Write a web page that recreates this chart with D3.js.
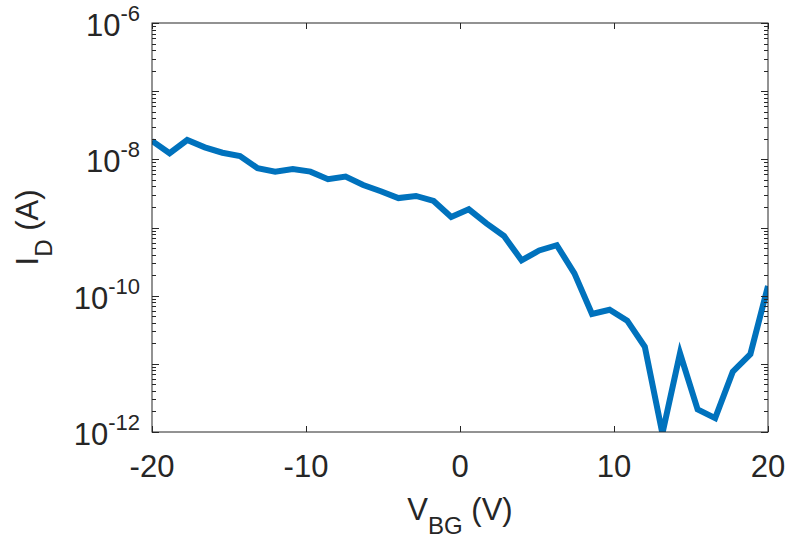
<!DOCTYPE html>
<html>
<head>
<meta charset="utf-8">
<script src="https://cdn.jsdelivr.net/npm/d3@7"></script>
<style>
  body { margin: 0; background: #fff; }
  text { font-family: "Liberation Sans", Arial, sans-serif; fill: #262626; }
</style>
</head>
<body>
<div id="chart"></div>
<script>
// gate voltage sweep, 36 points from -20 V to 20 V
const vbg = [-20, -18.857, -17.714, -16.571, -15.429, -14.286, -13.143, -12, -10.857, -9.714,
  -8.571, -7.429, -6.286, -5.143, -4, -2.857, -1.714, -0.571, 0.571, 1.714,
  2.857, 4, 5.143, 6.286, 7.429, 8.571, 9.714, 10.857, 12, 13.143,
  14.286, 15.429, 16.571, 17.714, 18.857, 20];
const idrain = [1.86e-8, 1.23e-8, 1.92e-8, 1.50e-8, 1.25e-8, 1.12e-8, 7.4e-9, 6.6e-9, 7.2e-9, 6.6e-9,
  5.1e-9, 5.6e-9, 4.2e-9, 3.4e-9, 2.7e-9, 2.9e-9, 2.45e-9, 1.43e-9, 1.85e-9, 1.15e-9,
  7.5e-10, 3.3e-10, 4.6e-10, 5.5e-10, 2.13e-10, 5.4e-11, 6.2e-11, 4.3e-11, 1.78e-11, 0.95e-12,
  1.43e-11, 2.15e-12, 1.6e-12, 7.7e-12, 1.39e-11, 1.39e-10];
const xTicks = [-20, -10, 0, 10, 20];
const yExps = [-6, -8, -10, -12];

const W = 787, H = 544;
const margin = { top: 23, right: 19, bottom: 112, left: 152 };
const width = W - margin.left - margin.right;
const height = H - margin.top - margin.bottom;

const svg = d3.select('#chart').append('svg')
  .attr('width', W).attr('height', H);
const g = svg.append('g')
  .attr('transform', 'translate(' + margin.left + ',' + margin.top + ')');

const x = d3.scaleLinear().domain([-20, 20]).range([0, width]);
const y = d3.scaleLog().domain([1e-12, 1e-6]).range([height, 0]);

svg.append('defs').append('clipPath').attr('id', 'clip')
  .append('rect').attr('width', width).attr('height', height);

// line
const line = d3.line().x((d, i) => x(vbg[i])).y(d => y(d));
g.append('path')
  .datum(idrain)
  .attr('clip-path', 'url(#clip)')
  .attr('fill', 'none')
  .attr('stroke', '#0072BD')
  .attr('stroke-width', 6)
  .attr('d', line);

// box
g.append('rect')
  .attr('width', width).attr('height', height)
  .attr('fill', 'none').attr('stroke', '#262626').attr('stroke-width', 1);

// y ticks (major every decade + minor 2..9), inside on both sides
const yt = [];
for (let e = -12; e <= -6; e++) {
  for (let m = 1; m <= 9; m++) {
    const v = m * Math.pow(10, e);
    if (v <= 1e-6 * 1.0001) yt.push({ v: v, major: m === 1 });
  }
}
yt.forEach(t => {
  const len = t.major ? 7 : 4;
  const yy = Math.round(y(t.v)) + 0.5;
  g.append('line').attr('x1', 0).attr('x2', len).attr('y1', yy).attr('y2', yy)
    .attr('stroke', '#262626');
  g.append('line').attr('x1', width).attr('x2', width - len).attr('y1', yy).attr('y2', yy)
    .attr('stroke', '#262626');
});

// x ticks
xTicks.forEach(v => {
  const xx = Math.round(x(v)) + 0.5;
  g.append('line').attr('x1', xx).attr('x2', xx).attr('y1', height).attr('y2', height - 6)
    .attr('stroke', '#262626');
  g.append('line').attr('x1', xx).attr('x2', xx).attr('y1', 0).attr('y2', 6)
    .attr('stroke', '#262626');
  g.append('text')
    .attr('x', x(v)).attr('y', height + 45)
    .attr('text-anchor', 'middle')
    .style('font-size', '31px')
    .text(v);
});

// y tick labels 10^n
yExps.forEach(e => {
  const t = g.append('text')
    .attr('x', -12).attr('y', y(Math.pow(10, e)) + 13)
    .attr('text-anchor', 'end')
    .style('font-size', '31px');
  t.append('tspan').text('10');
  t.append('tspan').attr('dy', -15).style('font-size', '22px').text(e);
});

// x label
const xl = g.append('text')
  .attr('x', width / 2).attr('y', height + 88)
  .attr('text-anchor', 'middle')
  .style('font-size', '31px');
xl.append('tspan').text('V');
xl.append('tspan').attr('dy', 14).style('font-size', '24px').text('BG');
xl.append('tspan').attr('dy', -14).text(' (V)');

// y label
const yl = svg.append('text')
  .attr('transform', 'translate(38,' + (margin.top + height / 2) + ') rotate(-90)')
  .attr('text-anchor', 'middle')
  .style('font-size', '31px');
yl.append('tspan').text('I');
yl.append('tspan').attr('dy', 14).style('font-size', '24px').text('D');
yl.append('tspan').attr('dy', -14).text(' (A)');
</script>
</body>
</html>
